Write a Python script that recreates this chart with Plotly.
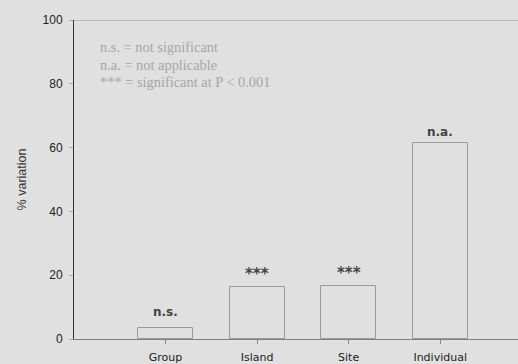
import plotly.graph_objects as go

# Variance components by hierarchical level
levels = ["Group", "Island", "Site", "Individual"]
pct_variation = [3.4, 16.3, 16.6, 61.4]
significance = ["n.s.", "***", "***", "n.a."]
y_ticks = [0, 20, 40, 60, 80, 100]
key_lines = [
    "n.s. = not significant",
    "n.a. = not applicable",
    "*** = significant at P < 0.001",
]

bg = "#e0e0e0"
sans = "DejaVu Sans, Arial, sans-serif"
xpos = list(range(1, len(levels) + 1))

fig = go.Figure()
fig.add_trace(go.Bar(
    x=xpos,
    y=pct_variation,
    width=0.6,
    marker=dict(color=bg, line=dict(color="#9a9a9a", width=1)),
    hoverinfo="skip",
))

# Significance labels above each bar
label_shift = {"n.s.": 7, "***": 2, "n.a.": 2}
for xp, val, lab in zip(xpos, pct_variation, significance):
    stars = lab.startswith("*")
    fig.add_annotation(
        x=xp, y=val, xref="x", yref="y", yanchor="bottom", yshift=label_shift[lab],
        showarrow=False, text=f"<b>{lab}</b>",
        font=dict(family=sans, size=15 if stars else 12, color="#444444"),
    )

# Key to the significance symbols, one line per entry
key_y = [0.915, 0.859, 0.806]
for line, ky in zip(key_lines, key_y):
    fig.add_annotation(
        x=0.055, y=ky, xref="paper", yref="paper",
        xanchor="left", yanchor="middle", align="left", showarrow=False,
        text=line,
        font=dict(family="Liberation Serif, serif", size=14.4, color="#a6a6a6"),
    )

# Light rule along the top of the plot
fig.add_shape(type="line", xref="paper", yref="y", x0=0, x1=1, y0=100, y1=100,
              line=dict(color="#b8b8b8", width=2))

fig.update_layout(
    width=518, height=364,
    margin=dict(l=74, r=0, t=20, b=25),
    paper_bgcolor=bg, plot_bgcolor=bg,
    showlegend=False,
    bargap=0,
    xaxis=dict(
        range=[0, 4.85],
        tickvals=xpos, ticktext=levels,
        ticks="outside", ticklen=4, tickcolor="#888888",
        ticklabelstandoff=4,
        showgrid=False, zeroline=False,
        showline=True, linecolor="#808080", linewidth=1,
        tickfont=dict(family=sans, size=11, color="#222222"),
    ),
    yaxis=dict(
        range=[0, 100],
        tickvals=y_ticks,
        ticks="outside", ticklen=4, tickcolor="#aaaaaa",
        ticklabelstandoff=4,
        showgrid=False, zeroline=False,
        showline=True, linecolor="#333333", linewidth=1,
        tickfont=dict(family="Arial, Liberation Sans", size=12, color="#222222"),
        title=dict(text="% variation", standoff=13,
                   font=dict(family="Arial, Liberation Sans", size=12.5, color="#333333")),
    ),
)

fig.write_html("out.html")
